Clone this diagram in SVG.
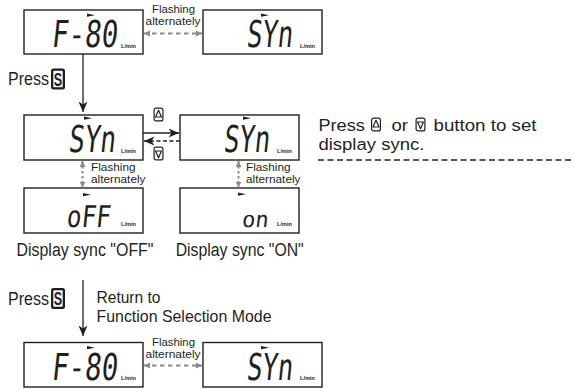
<svg xmlns="http://www.w3.org/2000/svg" width="574" height="389" viewBox="0 0 574 389">
<style>
.box{fill:#fff;stroke:#231f20;stroke-width:1.4}
.lcd{font-family:"DejaVu Sans Mono",monospace;font-size:37px;fill:#231f20}
.unit{font-family:"Liberation Sans",Arial,sans-serif;font-size:5.6px;font-weight:bold;fill:#231f20}
.t{font-family:"Liberation Sans",Arial,sans-serif;font-size:18px;fill:#231f20}
.m{font-size:16.4px}
.fl{font-family:"Liberation Sans",Arial,sans-serif;font-size:10.8px;fill:#231f20}
.big{font-size:16.8px}
.ln{stroke:#231f20;stroke-width:1.3;fill:none}
.gd{stroke:#8a8a8a;stroke-width:2;fill:none}
.ind{fill:#231f20}
</style>
<defs>
<marker id="ah" markerUnits="userSpaceOnUse" markerWidth="11" markerHeight="10" refX="10.5" refY="4.5" orient="auto">
<path d="M0,0 L10.5,4.5 L0,9 L3,4.5 Z" fill="#231f20"/>
</marker>
<marker id="gh" markerUnits="userSpaceOnUse" markerWidth="7" markerHeight="7" refX="6" refY="3" orient="auto-start-reverse">
<path d="M0,0 L6,3 L0,6 Z" fill="#8a8a8a"/>
</marker>
<g id="upb">
<rect x="0.6" y="0.6" width="8.8" height="12.8" rx="2" fill="#fff" stroke="#231f20" stroke-width="1.2"/>
<path d="M5,2.8 L8,9.5 L2,9.5 Z" fill="none" stroke="#231f20" stroke-width="1.2" stroke-linejoin="round"/>
</g>
<g id="dnb">
<rect x="0.6" y="0.6" width="8.8" height="12.8" rx="2" fill="#fff" stroke="#231f20" stroke-width="1.2"/>
<path d="M2,4.5 L8,4.5 L5,11.2 Z" fill="none" stroke="#231f20" stroke-width="1.2" stroke-linejoin="round"/>
</g>
<g id="sb">
<rect x="0" y="0" width="14" height="21" rx="2.5" fill="#1e1e1e"/>
<rect x="2" y="2" width="10" height="17" rx="1" fill="#fff" stroke="#1e1e1e" stroke-width="0.6"/>
<text x="2.8" y="17" textLength="8.4" lengthAdjust="spacingAndGlyphs" style="font-family:'Liberation Sans',Arial,sans-serif;font-size:18px;font-weight:bold;fill:#1e1e1e">S</text>
</g>
<polygon id="tick" points="0,0 8,1.7 0,3.2"/>
</defs>

<g id="n-f80-top">
<rect class="box" x="24" y="10" width="119" height="44"/>
<use href="#tick" class="ind" x="87" y="13.5"/>
<text class="lcd" transform="translate(51,47) skewX(-6)" textLength="66" lengthAdjust="spacingAndGlyphs">F-80</text>
<text class="unit" x="121" y="47.5">L/min</text>
</g>
<g id="n-syn-top">
<rect class="box" x="203" y="10" width="119" height="44"/>
<use href="#tick" class="ind" x="261" y="13.5"/>
<text class="lcd" transform="translate(246,47) skewX(-6)" textLength="46" lengthAdjust="spacingAndGlyphs">SYn</text>
<text class="unit" x="300" y="47.5">L/min</text>
</g>
<g id="n-syn-mid-left">
<rect class="box" x="24" y="115" width="119" height="45"/>
<use href="#tick" class="ind" x="84" y="116.5"/>
<text class="lcd" transform="translate(68,151.5) skewX(-6)" textLength="47" lengthAdjust="spacingAndGlyphs">SYn</text>
<text class="unit" x="121" y="153">L/min</text>
</g>
<g id="n-syn-mid-right">
<rect class="box" x="180" y="115" width="119" height="45"/>
<use href="#tick" class="ind" x="243" y="116.5"/>
<text class="lcd" transform="translate(223,151.5) skewX(-6)" textLength="46" lengthAdjust="spacingAndGlyphs">SYn</text>
<text class="unit" x="277" y="153">L/min</text>
</g>
<g id="n-off">
<rect class="box" x="24" y="188" width="119" height="45"/>
<use href="#tick" class="ind" x="83" y="193"/>
<text class="lcd" style="font-size:30px" transform="translate(66,227) skewX(-6)" textLength="44" lengthAdjust="spacingAndGlyphs">oFF</text>
<text class="unit" x="121" y="226">L/min</text>
</g>
<g id="n-on">
<rect class="box" x="180" y="188" width="119" height="45"/>
<use href="#tick" class="ind" x="238" y="192.5"/>
<text class="lcd" style="font-size:22px" transform="translate(241.5,227) skewX(-6)" textLength="26.5" lengthAdjust="spacingAndGlyphs">on</text>
<text class="unit" x="277" y="226">L/min</text>
</g>
<g id="n-f80-bottom">
<rect class="box" x="24" y="342.5" width="119" height="44.5"/>
<use href="#tick" class="ind" x="87" y="346"/>
<text class="lcd" transform="translate(51,379.5) skewX(-6)" textLength="66" lengthAdjust="spacingAndGlyphs">F-80</text>
<text class="unit" x="121" y="380">L/min</text>
</g>
<g id="n-syn-bottom">
<rect class="box" x="203" y="342.5" width="119" height="44.5"/>
<use href="#tick" class="ind" x="261" y="346"/>
<text class="lcd" transform="translate(246,379.5) skewX(-6)" textLength="46" lengthAdjust="spacingAndGlyphs">SYn</text>
<text class="unit" x="300" y="380">L/min</text>
</g>

<g id="connectors">
<line class="ln" x1="83" y1="54" x2="83" y2="112" marker-end="url(#ah)"/>
<line class="ln" x1="83" y1="280" x2="83" y2="336" marker-end="url(#ah)"/>
<line class="ln" x1="143" y1="133" x2="179" y2="133" marker-end="url(#ah)"/>
<line class="ln" x1="180" y1="141" x2="144" y2="141" stroke-dasharray="4 2.5" marker-end="url(#ah)"/>
<line class="gd" x1="144" y1="33.5" x2="202" y2="33.5" stroke-dasharray="4.5 3.5" marker-start="url(#gh)" marker-end="url(#gh)"/>
<line class="gd" x1="144" y1="365.5" x2="202" y2="365.5" stroke-dasharray="4.5 3.5" marker-start="url(#gh)" marker-end="url(#gh)"/>
<line class="gd" x1="82.5" y1="161" x2="82.5" y2="187.5" stroke-dasharray="2.5 2.5" marker-start="url(#gh)" marker-end="url(#gh)"/>
<line class="gd" x1="238.5" y1="161" x2="238.5" y2="187.5" stroke-dasharray="2.5 2.5" marker-start="url(#gh)" marker-end="url(#gh)"/>
</g>

<g id="labels">
<text class="fl" x="152" y="13" textLength="43" lengthAdjust="spacingAndGlyphs">Flashing</text>
<text class="fl" x="145.5" y="25" textLength="55" lengthAdjust="spacingAndGlyphs">alternately</text>
<text class="fl" x="152" y="346" textLength="43" lengthAdjust="spacingAndGlyphs">Flashing</text>
<text class="fl" x="145.5" y="358" textLength="55" lengthAdjust="spacingAndGlyphs">alternately</text>
<text class="fl" x="91" y="171" textLength="44.5" lengthAdjust="spacingAndGlyphs">Flashing</text>
<text class="fl" x="91" y="183" textLength="54.5" lengthAdjust="spacingAndGlyphs">alternately</text>
<text class="fl" x="246" y="171" textLength="44.5" lengthAdjust="spacingAndGlyphs">Flashing</text>
<text class="fl" x="246" y="183" textLength="54.5" lengthAdjust="spacingAndGlyphs">alternately</text>
<text class="t" x="8" y="85" textLength="41" lengthAdjust="spacingAndGlyphs">Press</text>
<use href="#sb" x="51" y="68.5"/>
<use href="#upb" x="153.5" y="107.5"/>
<use href="#dnb" x="153.5" y="146.5"/>
<text class="t" x="16.5" y="256" textLength="137" lengthAdjust="spacingAndGlyphs">Display sync "OFF"</text>
<text class="t" x="175.7" y="256" textLength="128" lengthAdjust="spacingAndGlyphs">Display sync "ON"</text>
<text class="t" x="8" y="305" textLength="41" lengthAdjust="spacingAndGlyphs">Press</text>
<use href="#sb" x="51" y="288"/>
<text class="t m" x="96.5" y="303" textLength="64" lengthAdjust="spacingAndGlyphs">Return to</text>
<text class="t m" x="96.5" y="321.5" textLength="175" lengthAdjust="spacingAndGlyphs">Function Selection Mode</text>
<text class="t big" x="318.4" y="130.5" textLength="46.5" lengthAdjust="spacingAndGlyphs">Press</text>
<use href="#upb" x="371" y="117.5"/>
<text class="t big" x="391.5" y="130.5" textLength="16.5" lengthAdjust="spacingAndGlyphs">or</text>
<use href="#dnb" x="415.5" y="117.5"/>
<text class="t big" x="433.5" y="130.5" textLength="103" lengthAdjust="spacingAndGlyphs">button to set</text>
<text class="t big" x="318.4" y="149.5" textLength="106" lengthAdjust="spacingAndGlyphs">display sync.</text>
<line x1="318" y1="160" x2="574" y2="160" stroke="#231f20" stroke-width="1.3" stroke-dasharray="6 3.5"/>
</g>
</svg>
